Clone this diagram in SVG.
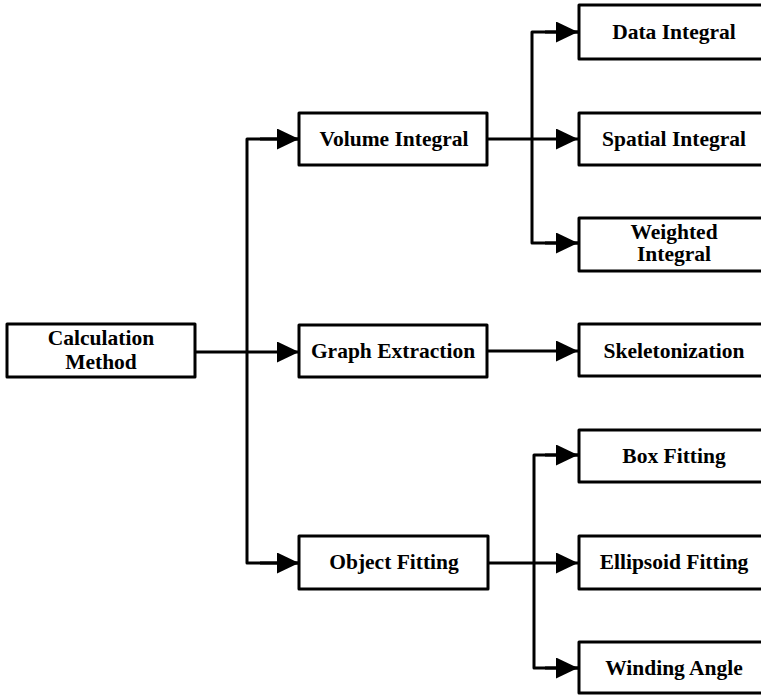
<svg xmlns="http://www.w3.org/2000/svg" width="761" height="695" viewBox="0 0 761 695">
  <defs>
    <marker id="arrow" markerUnits="userSpaceOnUse" markerWidth="23" markerHeight="21" refX="22" refY="10.5" orient="auto">
      <path d="M0,0 L22,10.5 L0,21 Z" fill="#000"/>
    </marker>
    <style>
      .box { fill: #fff; stroke: #000; stroke-width: 3; stroke-linejoin: round; }
      .lbl { font-family: "Liberation Serif", "Times New Roman", serif; font-weight: bold; font-size: 21.5px; text-anchor: middle; fill: #000; }
      .wire { fill: none; stroke: #000; stroke-width: 3; stroke-linejoin: round; }
    </style>
  </defs>
  <rect width="761" height="695" fill="#fff"/>

  <!-- connectors -->
  <g id="connectors">
    <path class="wire" d="M195,352 H299" marker-end="url(#arrow)"/>
    <path class="wire" d="M299,139 H247 V563 H299" />
    <path class="wire" d="M260,139 H299" marker-end="url(#arrow)"/>
    <path class="wire" d="M260,563 H299" marker-end="url(#arrow)"/>

    <path class="wire" d="M487,139 H578" marker-end="url(#arrow)"/>
    <path class="wire" d="M578,32 H532 V243 H578"/>
    <path class="wire" d="M545,32 H578" marker-end="url(#arrow)"/>
    <path class="wire" d="M545,243 H578" marker-end="url(#arrow)"/>

    <path class="wire" d="M487,351 H578" marker-end="url(#arrow)"/>

    <path class="wire" d="M488,563 H578" marker-end="url(#arrow)"/>
    <path class="wire" d="M578,455 H534 V668 H578"/>
    <path class="wire" d="M545,455 H578" marker-end="url(#arrow)"/>
    <path class="wire" d="M545,668 H578" marker-end="url(#arrow)"/>
  </g>

  <g id="calculation-method">
    <rect class="box" x="7" y="324" width="188" height="53"/>
    <text class="lbl" x="101" y="345">Calculation</text>
    <text class="lbl" x="101" y="369">Method</text>
  </g>

  <g id="volume-integral">
    <rect class="box" x="299" y="113" width="188" height="52"/>
    <text class="lbl" x="394" y="146">Volume Integral</text>
  </g>

  <g id="graph-extraction">
    <rect class="box" x="299" y="325" width="188" height="52"/>
    <text class="lbl" x="393" y="358">Graph Extraction</text>
  </g>

  <g id="object-fitting">
    <rect class="box" x="299" y="536" width="189" height="53"/>
    <text class="lbl" x="394" y="569">Object Fitting</text>
  </g>

  <g id="data-integral">
    <rect class="box" x="579" y="5" width="200" height="54"/>
    <text class="lbl" x="674" y="39">Data Integral</text>
  </g>

  <g id="spatial-integral">
    <rect class="box" x="579" y="113" width="200" height="52"/>
    <text class="lbl" x="674" y="146">Spatial Integral</text>
  </g>

  <g id="weighted-integral">
    <rect class="box" x="579" y="218" width="200" height="53"/>
    <text class="lbl" x="674" y="239">Weighted</text>
    <text class="lbl" x="674" y="261">Integral</text>
  </g>

  <g id="skeletonization">
    <rect class="box" x="579" y="324" width="200" height="52"/>
    <text class="lbl" x="674" y="358">Skeletonization</text>
  </g>

  <g id="box-fitting">
    <rect class="box" x="579" y="430" width="200" height="52"/>
    <text class="lbl" x="674" y="463">Box Fitting</text>
  </g>

  <g id="ellipsoid-fitting">
    <rect class="box" x="579" y="536" width="200" height="53"/>
    <text class="lbl" x="674" y="569">Ellipsoid Fitting</text>
  </g>

  <g id="winding-angle">
    <rect class="box" x="579" y="642" width="200" height="51"/>
    <text class="lbl" x="674" y="675">Winding Angle</text>
  </g>
</svg>
